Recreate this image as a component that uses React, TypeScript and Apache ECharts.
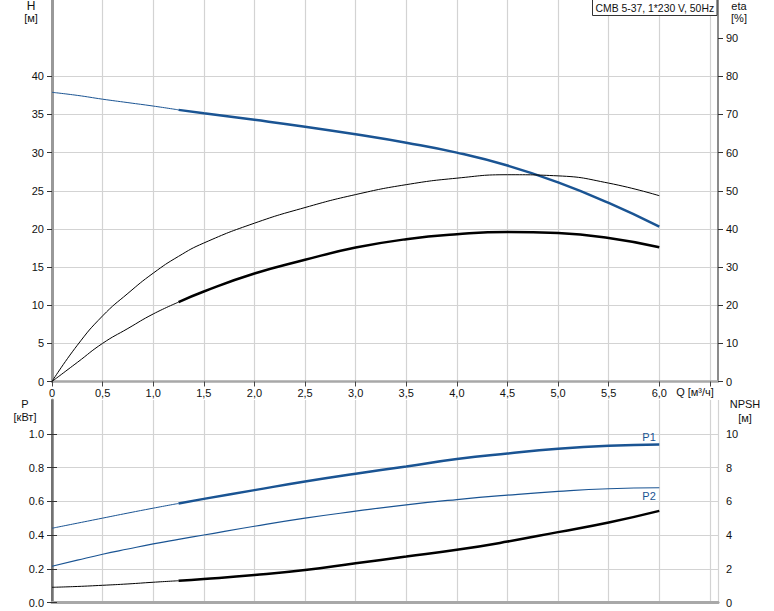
import React, { useEffect, useRef } from "react";
import * as echarts from "echarts";

// Flow rate Q [m³/h]
const Q = [0, 0.25, 0.5, 0.75, 1.0, 1.25, 1.5, 2.0, 2.5, 3.0, 3.5, 4.0, 4.5, 5.0, 5.5, 6.0];
// Head H [m]
const H = [37.9, 37.5, 37.0, 36.55, 36.1, 35.6, 35.15, 34.3, 33.4, 32.4, 31.3, 30.0, 28.3, 26.1, 23.4, 20.3];
// Efficiencies [%]
const ETA_PUMP = [0, 9.5, 17.2, 23.1, 28.4, 32.8, 36.3, 41.5, 45.6, 49.0, 51.6, 53.3, 54.2, 53.9, 52.0, 48.7];
const ETA_TOTAL = [0, 5.0, 10.0, 13.9, 17.7, 20.8, 23.6, 28.3, 31.9, 35.1, 37.3, 38.6, 39.2, 38.9, 37.6, 35.2];
// Power [kW]
const P1 = [0.44, 0.47, 0.5, 0.53, 0.559, 0.587, 0.614, 0.666, 0.717, 0.763, 0.806, 0.85, 0.883, 0.911, 0.929, 0.937];
const P2 = [0.215, 0.251, 0.286, 0.317, 0.347, 0.374, 0.4, 0.452, 0.5, 0.541, 0.579, 0.61, 0.636, 0.658, 0.674, 0.68];
// NPSH [m]
const NPSH = [0.9, 0.95, 1.02, 1.1, 1.2, 1.29, 1.39, 1.63, 1.93, 2.33, 2.72, 3.12, 3.61, 4.17, 4.74, 5.43];

const Q_TICKS = [0, 0.5, 1, 1.5, 2, 2.5, 3, 3.5, 4, 4.5, 5, 5.5, 6, 6.5];
const Q_LABELS = [0, 0.5, 1, 1.5, 2, 2.5, 3, 3.5, 4, 4.5, 5, 5.5, 6];
const H_LABELS = [0, 5, 10, 15, 20, 25, 30, 35, 40];
const ETA_LABELS = [0, 10, 20, 30, 40, 50, 60, 70, 80, 90];
const P_LABELS = [0, 0.2, 0.4, 0.6, 0.8, 1.0];
const NPSH_LABELS = [0, 2, 4, 6, 8, 10];

const TITLE = "CMB 5-37, 1*230 V, 50Hz";
const SPLIT_Q = 1.25;

const FONT = "'Liberation Sans', Arial, sans-serif";
const BLUE = "#1a5493";
const GRID_C = "#d3d3d3";

const pairs = (ys: number[], from: number, to: number) =>
  Q.map((q, i) => [q, ys[i]]).filter((p) => p[0] >= from - 1e-9 && p[0] <= to + 1e-9);

export default function App() {
  const ref = useRef<HTMLDivElement>(null);
  useEffect(() => {
    if (!ref.current) return;
    const chart = echarts.init(ref.current, null, { renderer: "svg" });
    const label = { fontFamily: FONT, fontSize: 11, color: "#111" };
    const qFmt = (v: number) => (v === 0 ? "0" : v.toFixed(1).replace(".", ","));
    const xBase = (gi: number) => ({
      type: "value",
      gridIndex: gi,
      min: 0,
      max: 6.58,
      interval: 0.5,
      splitLine: { show: true, lineStyle: { color: GRID_C, width: 1.2 } },
    });
    const line = (
      name: string,
      data: number[][],
      color: string,
      width: number,
      xi: number,
      yi: number,
      extra: any = {}
    ) => ({
      type: "line",
      name,
      data,
      xAxisIndex: xi,
      yAxisIndex: yi,
      smooth: 0.5,
      showSymbol: false,
      symbol: "none",
      lineStyle: { color, width },
      itemStyle: { color },
      silent: true,
      ...extra,
    });
    chart.setOption({
      animation: false,
      grid: [
        { left: 52, top: 0, width: 666, height: 381.5 },
        { left: 52, top: 400, width: 666, height: 202.5 },
      ],
      xAxis: [
        {
          ...xBase(0),
          axisLine: { show: true, lineStyle: { color: "#a8a8a8", width: 2.5 } },
          axisTick: { show: true, customValues: Q_TICKS, length: 5, lineStyle: { color: "#444" } },
          axisLabel: { ...label, margin: 6, customValues: Q_LABELS, formatter: qFmt },
        },
        {
          ...xBase(1),
          axisLine: { show: true, lineStyle: { color: "#a8a8a8", width: 3 } },
          axisTick: { show: false },
          axisLabel: { show: false },
        },
        {
          ...xBase(1),
          position: "top",
          splitLine: { show: false },
          axisLine: { show: true, lineStyle: { color: "#a8a8a8", width: 2.5 } },
          axisTick: { show: false },
          axisLabel: { show: false },
        },
      ],
      yAxis: [
        {
          type: "value",
          gridIndex: 0,
          min: 0,
          max: 50,
          interval: 5,
          position: "left",
          splitLine: { show: true, lineStyle: { color: GRID_C, width: 1.2 } },
          axisLine: { show: true, lineStyle: { color: "#999", width: 3 } },
          axisTick: { show: true, customValues: H_LABELS, length: 5, lineStyle: { color: "#333" } },
          axisLabel: { ...label, margin: 8, customValues: H_LABELS },
        },
        {
          type: "value",
          gridIndex: 0,
          min: 0,
          max: 100,
          interval: 10,
          position: "right",
          splitLine: { show: false },
          axisLine: { show: true, lineStyle: { color: "#666", width: 1.5 } },
          axisTick: { show: true, customValues: ETA_LABELS, length: 5, lineStyle: { color: "#333" } },
          axisLabel: { ...label, margin: 8, customValues: ETA_LABELS },
        },
        {
          type: "value",
          gridIndex: 1,
          min: 0,
          max: 1.2,
          interval: 0.2,
          position: "left",
          splitLine: { show: true, lineStyle: { color: GRID_C, width: 1.2 } },
          axisLine: { show: true, lineStyle: { color: "#999", width: 3 } },
          axisTick: { show: true, customValues: P_LABELS, length: 5, lineStyle: { color: "#333" } },
          axisLabel: { ...label, margin: 8, customValues: P_LABELS, formatter: (v: number) => v.toFixed(1) },
        },
        {
          type: "value",
          gridIndex: 1,
          min: 0,
          max: 12,
          interval: 2,
          position: "right",
          splitLine: { show: false },
          axisLine: { show: true, lineStyle: { color: "#666", width: 1.5 } },
          axisTick: { show: true, customValues: NPSH_LABELS, length: 5, lineStyle: { color: "#333" } },
          axisLabel: { ...label, margin: 8, customValues: NPSH_LABELS },
        },
      ],
      series: [
        line("H thin", pairs(H, 0, SPLIT_Q), BLUE, 1, 0, 0),
        line("H", pairs(H, SPLIT_Q, 6), BLUE, 2.5, 0, 0),
        line("eta pump", pairs(ETA_PUMP, 0, 6), "#000", 1, 0, 1),
        line("eta thin", pairs(ETA_TOTAL, 0, SPLIT_Q), "#000", 1, 0, 1),
        line("eta", pairs(ETA_TOTAL, SPLIT_Q, 6), "#000", 2.5, 0, 1),
        line("P1 thin", pairs(P1, 0, SPLIT_Q), BLUE, 1, 1, 2),
        line("P1", pairs(P1, SPLIT_Q, 6), BLUE, 2.5, 1, 2, {
          endLabel: { show: true, formatter: "P1", distance: 0, offset: [-17, -7], ...label, color: BLUE },
        }),
        line("P2", pairs(P2, 0, 6), BLUE, 1.2, 1, 2, {
          endLabel: { show: true, formatter: "P2", distance: 0, offset: [-17, 8], ...label, color: BLUE },
        }),
        line("NPSH thin", pairs(NPSH, 0, SPLIT_Q), "#000", 1, 1, 3),
        line("NPSH", pairs(NPSH, SPLIT_Q, 6), "#000", 2.5, 1, 3),
      ],
      graphic: [
        { type: "text", x: 31, y: 6, style: { text: "H", font: `12px ${FONT}`, fill: "#111", align: "center", verticalAlign: "middle" } },
        { type: "text", x: 31, y: 18, style: { text: "[м]", font: `11px ${FONT}`, fill: "#111", align: "center", verticalAlign: "middle" } },
        { type: "text", x: 739, y: 6, style: { text: "eta", font: `11px ${FONT}`, fill: "#111", align: "center", verticalAlign: "middle" } },
        { type: "text", x: 739, y: 18, style: { text: "[%]", font: `11px ${FONT}`, fill: "#111", align: "center", verticalAlign: "middle" } },
        {
          type: "rect",
          shape: { x: 592.5, y: -1, width: 124.5, height: 16.5 },
          style: { fill: "#fff", stroke: "#333", lineWidth: 1 },
          z: 100,
        },
        { type: "text", x: 595.5, y: 8, z: 101, style: { text: TITLE, font: `10.4px ${FONT}`, fill: "#111", align: "left", verticalAlign: "middle" } },
        { type: "text", x: 695, y: 392, style: { text: "Q [м³/ч]", font: `11px ${FONT}`, fill: "#111", align: "center", verticalAlign: "middle" } },
        { type: "text", x: 25, y: 404, style: { text: "P", font: `11px ${FONT}`, fill: "#111", align: "center", verticalAlign: "middle" } },
        { type: "text", x: 25, y: 417, style: { text: "[кВт]", font: `11px ${FONT}`, fill: "#111", align: "center", verticalAlign: "middle" } },
        { type: "text", x: 745, y: 404, style: { text: "NPSH", font: `11px ${FONT}`, fill: "#111", align: "center", verticalAlign: "middle" } },
        { type: "text", x: 745, y: 418, style: { text: "[м]", font: `11px ${FONT}`, fill: "#111", align: "center", verticalAlign: "middle" } },
      ],
    });
    return () => chart.dispose();
  }, []);
  return (
    <div
      ref={ref}
      style={{ position: "absolute", left: 0, top: 0, width: 774, height: 611, background: "#fff" }}
    />
  );
}
